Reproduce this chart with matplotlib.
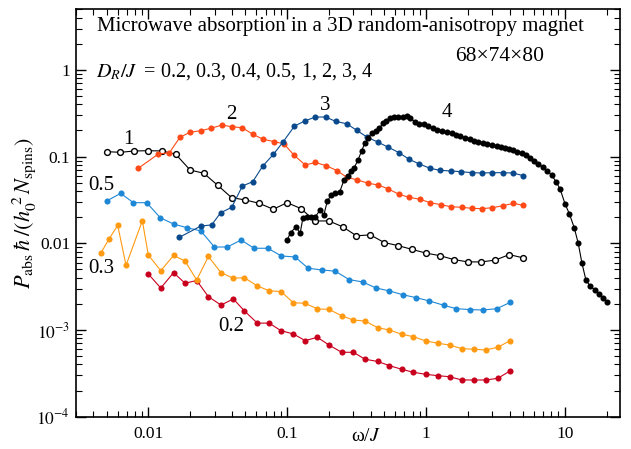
import numpy as np
import matplotlib
matplotlib.use('Agg')
import matplotlib.pyplot as plt
from matplotlib.ticker import FixedLocator, FixedFormatter, NullFormatter, LogLocator

plt.rcParams['font.family'] = 'serif'
plt.rcParams['font.serif'] = ['Liberation Serif', 'DejaVu Serif']
plt.rcParams['mathtext.fontset'] = 'stix'

# D_R/J = 1 (open circles)
x_1 = [0.005, 0.0063, 0.0079, 0.01, 0.0126, 0.0158, 0.02, 0.0251, 0.0316, 0.0398,
       0.05, 0.063, 0.0794, 0.1, 0.126, 0.158, 0.2, 0.251, 0.316, 0.398,
       0.5, 0.63, 0.794, 1.0, 1.26, 1.58, 2.0, 2.51, 3.16, 3.98, 5.0]
y_1 = [0.114, 0.112, 0.116, 0.117, 0.116, 0.106, 0.070, 0.0642, 0.0467, 0.0336,
       0.0316, 0.0289, 0.0247, 0.0294, 0.0251, 0.0181, 0.0181, 0.0155, 0.0122, 0.0125,
       0.0102, 0.0094, 0.0085, 0.0077, 0.0072, 0.0065, 0.0061, 0.0061, 0.0064, 0.0074, 0.0068]

# D_R/J = 2
x_2 = [0.00847, 0.0118, 0.0142, 0.0169, 0.0200, 0.0239, 0.0283, 0.0338, 0.0399, 0.0476,
       0.0565, 0.0674, 0.0805, 0.0950, 0.112, 0.135, 0.160, 0.192, 0.228, 0.269,
       0.321, 0.385, 0.454, 0.536, 0.640, 0.756, 0.907, 1.07, 1.28, 1.51,
       1.81, 2.14, 2.53, 3.01, 3.58, 4.27, 5.03]
y_2 = [0.0733, 0.107, 0.111, 0.167, 0.191, 0.199, 0.212, 0.231, 0.221, 0.215,
       0.181, 0.158, 0.149, 0.140, 0.104, 0.0800, 0.0855, 0.0783, 0.0691, 0.0577,
       0.0537, 0.0492, 0.0470, 0.0423, 0.0367, 0.0339, 0.0322, 0.0294, 0.0279, 0.0264,
       0.0260, 0.0253, 0.0251, 0.0257, 0.0271, 0.0289, 0.0274]

# D_R/J = 3
x_3 = [0.0167, 0.0239, 0.0286, 0.0332, 0.0399, 0.0476, 0.0565, 0.0668, 0.0796, 0.0939,
       0.113, 0.135, 0.160, 0.189, 0.225, 0.269, 0.317, 0.378, 0.450, 0.536,
       0.640, 0.756, 0.897, 1.07, 1.26, 1.51, 1.79, 2.14, 2.53, 3.01,
       3.58, 4.22, 5.03]
y_3 = [0.0117, 0.0158, 0.0163, 0.0225, 0.0260, 0.0458, 0.0513, 0.0779, 0.106, 0.149,
       0.225, 0.259, 0.286, 0.286, 0.254, 0.239, 0.201, 0.167, 0.147, 0.128,
       0.111, 0.0931, 0.0821, 0.0733, 0.0695, 0.0682, 0.0670, 0.0652, 0.0647, 0.0652,
       0.0652, 0.0647, 0.0602]

# D_R/J = 0.5
x_05 = [0.00502, 0.00633, 0.00780, 0.00974, 0.0122, 0.0153, 0.0191, 0.0239, 0.0299, 0.0371,
        0.0466, 0.0578, 0.0725, 0.0909, 0.114, 0.142, 0.179, 0.222, 0.280, 0.350,
        0.437, 0.545, 0.681, 0.849, 1.06, 1.34, 1.65, 2.06, 2.57, 3.24, 4.04]
y_05 = [0.0308, 0.0377, 0.0294, 0.0294, 0.0197, 0.0166, 0.0151, 0.0139, 0.00906, 0.00906,
        0.0109, 0.00876, 0.00876, 0.00714, 0.00695, 0.00515, 0.00492, 0.00477, 0.00381, 0.00358,
        0.00305, 0.00282, 0.00255, 0.00236, 0.00216, 0.00193, 0.00176, 0.00172, 0.00170, 0.00176, 0.00208]

# D_R/J = 0.3
x_03 = [0.00454, 0.00521, 0.00602, 0.00691, 0.00906, 0.0100, 0.0123, 0.0152, 0.0184, 0.0223,
        0.0271, 0.0334, 0.0410, 0.0492, 0.0610, 0.0741, 0.0904, 0.111, 0.135, 0.165,
        0.200, 0.247, 0.300, 0.364, 0.450, 0.545, 0.670, 0.812, 0.997, 1.22,
        1.48, 1.81, 2.22, 2.70, 3.29, 4.04]
y_03 = [0.00767, 0.0112, 0.0161, 0.00558, 0.0182, 0.00733, 0.00483, 0.00723, 0.00625, 0.00377,
        0.00704, 0.00458, 0.00395, 0.00401, 0.00322, 0.00284, 0.00277, 0.00206, 0.00203, 0.00175,
        0.00173, 0.00146, 0.00130, 0.00127, 0.00106, 0.00100, 0.000892, 0.000837, 0.000747, 0.000702,
        0.000671, 0.000609, 0.000599, 0.000588, 0.000632, 0.000753]

# D_R/J = 0.2
x_02 = [0.0100, 0.0123, 0.0152, 0.0184, 0.0223, 0.0271, 0.0334, 0.0410, 0.0492, 0.0610,
        0.0741, 0.0904, 0.111, 0.135, 0.165, 0.200, 0.247, 0.300, 0.364, 0.450,
        0.545, 0.670, 0.812, 0.997, 1.22, 1.48, 1.81, 2.22, 2.70, 3.29, 4.04]
y_02 = [0.00442, 0.00305, 0.00458, 0.00346, 0.00372, 0.00242, 0.00194, 0.00228, 0.00166, 0.00120,
        0.00120, 0.000981, 0.000899, 0.000753, 0.000824, 0.000671, 0.000553, 0.000553, 0.000460, 0.000433,
        0.000388, 0.000352, 0.000325, 0.000308, 0.000297, 0.000289, 0.000265, 0.000265, 0.000265, 0.000277, 0.000337]

# D_R/J = 4
x_4 = [0.100, 0.106, 0.116, 0.124, 0.130, 0.140, 0.149, 0.159, 0.172, 0.184,
       0.195, 0.208, 0.223, 0.239, 0.257, 0.273, 0.290, 0.304, 0.324, 0.344,
       0.364, 0.385, 0.407, 0.437, 0.462, 0.489, 0.516, 0.552, 0.589, 0.633,
       0.681, 0.727, 0.768, 0.835, 0.897, 0.969, 1.04, 1.12, 1.21, 1.30,
       1.41, 1.54, 1.65, 1.76, 1.91, 2.06, 2.22, 2.39, 2.57, 2.77,
       2.98, 3.24, 3.46, 3.72, 3.99, 4.27, 4.56, 4.90, 5.27, 5.63,
       6.01, 6.46, 6.95, 7.50, 8.06, 8.66, 9.25, 10.05, 10.8, 11.7,
       12.5, 13.3, 14.2, 15.2, 16.5, 17.7, 19.0, 20.3]
y_4 = [0.0109, 0.0133, 0.0155, 0.0130, 0.0196, 0.0201, 0.0201, 0.0201, 0.0239, 0.0214,
       0.0308, 0.0361, 0.0377, 0.0391, 0.0537, 0.0597, 0.0686, 0.0743, 0.0913, 0.116,
       0.145, 0.163, 0.189, 0.199, 0.212, 0.242, 0.260, 0.277, 0.289, 0.289,
       0.289, 0.294, 0.277, 0.253, 0.238, 0.236, 0.225, 0.215, 0.203, 0.199,
       0.191, 0.186, 0.179, 0.173, 0.165, 0.158, 0.153, 0.147, 0.145, 0.140,
       0.135, 0.133, 0.130, 0.126, 0.121, 0.118, 0.114, 0.109, 0.104, 0.0971,
       0.0897, 0.0821, 0.0753, 0.0682, 0.0609, 0.0513, 0.0423, 0.0284, 0.0218, 0.0151,
       0.0100, 0.00588, 0.00377, 0.00322, 0.00289, 0.00260, 0.00232, 0.00210]

c_02 = '#C8001E'
c_03 = '#FF9A12'
c_05 = '#1E88D6'
c_2 = '#FF4A17'
c_3 = '#0A4A8C'

fig = plt.figure(figsize=(6.31, 4.49), dpi=100)
ax = fig.add_axes([0.120, 0.072, 0.8626, 0.9073])

ms = 4.4
lw = 0.8
ax.plot(x_02, y_02, '-o', color=c_02, ms=ms, lw=lw, mew=0)
ax.plot(x_03, y_03, '-o', color=c_03, ms=ms, lw=lw, mew=0)
ax.plot(x_05, y_05, '-o', color=c_05, ms=ms, lw=lw, mew=0)
ax.plot(x_1, y_1, '-o', color='black', mfc='white', mec='black', ms=4.2, lw=lw, mew=1.0)
ax.plot(x_2, y_2, '-o', color=c_2, ms=ms, lw=lw, mew=0)
ax.plot(x_3, y_3, '-o', color=c_3, ms=ms, lw=lw, mew=0)
ax.plot(x_4, y_4, '-o', color='black', ms=ms, lw=lw, mew=0)

ax.set_xscale('log')
ax.set_yscale('log')
ax.set_xlim(0.003, 25)
ax.set_ylim(1e-4, 5)

ax.xaxis.set_major_locator(FixedLocator([0.01, 0.1, 1, 10]))
ax.xaxis.set_major_formatter(FixedFormatter(['0.01', '0.1', '1', '10']))
ax.yaxis.set_major_locator(FixedLocator([1e-4, 1e-3, 1e-2, 1e-1, 1]))
ax.yaxis.set_major_formatter(FixedFormatter([r'$10^{-4}$', r'$10^{-3}$', '0.01', '0.1', '1']))
ax.xaxis.set_minor_locator(LogLocator(base=10, subs=np.arange(2, 10), numticks=20))
ax.yaxis.set_minor_locator(LogLocator(base=10, subs=np.arange(2, 10), numticks=20))
ax.xaxis.set_minor_formatter(NullFormatter())
ax.yaxis.set_minor_formatter(NullFormatter())

ax.tick_params(which='both', direction='in', top=True, right=True, labelsize=12.5)
ax.tick_params(which='major', length=7, width=1)
ax.tick_params(which='minor', length=4, width=0.8)
ax.tick_params(axis='x', pad=7)
ax.tick_params(axis='y', pad=4)
for s in ax.spines.values():
    s.set_linewidth(1.2)

ax.set_xlabel(r'ω/$J$', fontsize=14)
ax.xaxis.set_label_coords(0.533, -0.048)
ax.xaxis.label.set_va('center')
ax.set_ylabel(r'$P_{\rm abs}\,\hbar\;/(h_0^{\;2}\,N_{\rm spins})$', fontsize=16)
ax.yaxis.set_label_coords(-0.095, 0.5)
ax.yaxis.label.set_va('center')

ax.text(0.039, 0.9566, 'Microwave absorption in a 3D random-anisotropy magnet',
        transform=ax.transAxes, fontsize=15, va='center', ha='left')
ax.text(0.037, 0.846, r'$D_R/J\;$ = 0.2, 0.3, 0.4, 0.5, 1, 2, 3, 4',
        transform=ax.transAxes, fontsize=14.5, va='center', ha='left')
ax.text(0.697, 0.883, '68×74×80', transform=ax.transAxes, fontsize=15.5, va='center', ha='left')

curve_labels = [('1', 0.0961, 0.6816), ('2', 0.2866, 0.7406), ('3', 0.4589, 0.7627),
                ('4', 0.6816, 0.7455), ('0.5', 0.0474, 0.5663), ('0.3', 0.0474, 0.3625),
                ('0.2', 0.2866, 0.2202)]
for t, px, py in curve_labels:
    ax.text(px, py, t, transform=ax.transAxes, fontsize=15, ha='center', va='center')

fig.savefig('out.png', dpi=100)
